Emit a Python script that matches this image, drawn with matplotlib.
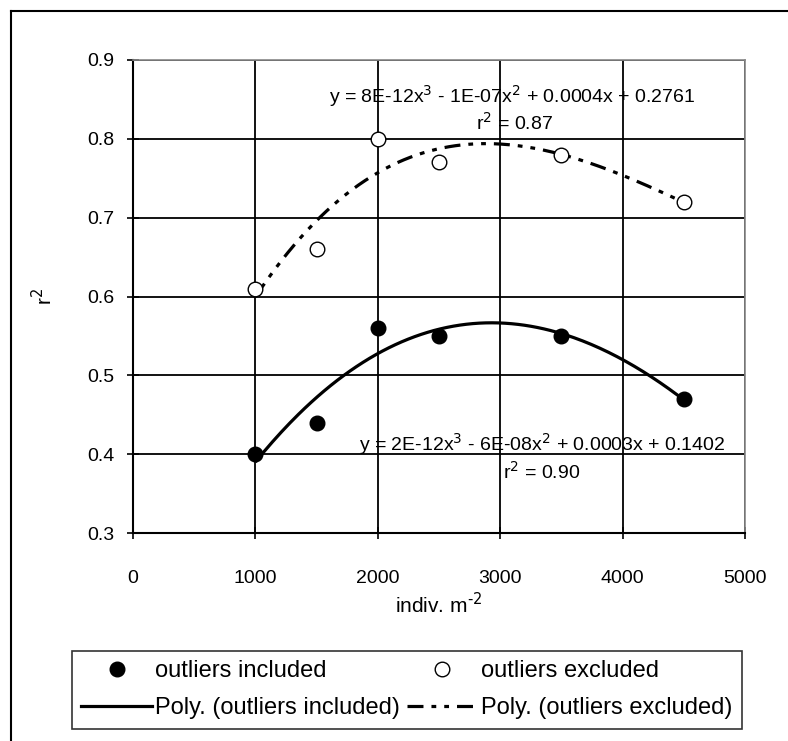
import numpy as np
import matplotlib
matplotlib.use("Agg")
import matplotlib.pyplot as plt
from matplotlib.lines import Line2D

plt.rcParams['font.family'] = ['Liberation Sans', 'DejaVu Sans']

density = [1000, 1500, 2000, 2500, 3500, 4500]
r2_included = [0.40, 0.44, 0.56, 0.55, 0.55, 0.47]
r2_excluded = [0.61, 0.66, 0.80, 0.77, 0.78, 0.72]
xticks = [0, 1000, 2000, 3000, 4000, 5000]
yticks = [0.3, 0.4, 0.5, 0.6, 0.7, 0.8, 0.9]
eq_excluded = "y = 8E-12x$^3$ - 1E-07x$^2$ + 0.0004x + 0.2761"
r2_text_excluded = "r$^2$ = 0.87"
eq_included = "y = 2E-12x$^3$ - 6E-08x$^2$ + 0.0003x + 0.1402"
r2_text_included = "r$^2$ = 0.90"

fig = plt.figure(figsize=(7.88, 7.41), dpi=100)
ax = fig.add_axes([133/788, 1-533/741, (745-133)/788, (533-60)/741])

# outer frame (left & top visible)
fig.add_artist(Line2D([11/788, 11/788], [0, 1-11/741], color='black', lw=1.5, transform=fig.transFigure))
fig.add_artist(Line2D([11/788, 1], [1-11/741, 1-11/741], color='black', lw=1.5, transform=fig.transFigure))

ax.set_xlim(0, 5000)
ax.set_ylim(0.3, 0.9)
ax.set_xticks(xticks)
ax.set_yticks(yticks)
ax.set_yticklabels([f"{v:.1f}" for v in yticks])
ax.grid(True, color='black', lw=1.3)
ax.set_axisbelow(True)
for s in ['top', 'right']:
    ax.spines[s].set_color('#888888')
    ax.spines[s].set_linewidth(1.2)
for s in ['left', 'bottom']:
    ax.spines[s].set_color('black')
    ax.spines[s].set_linewidth(1.5)
ax.tick_params(direction='inout', length=9, width=1.2, labelsize=14)
ax.tick_params(axis='x', pad=22)
ax.tick_params(axis='y', pad=9)

xs = np.linspace(min(density), max(density), 200)
c_in = np.polyfit(density, r2_included, 3)
c_ex = np.polyfit(density, r2_excluded, 3)

dash = (5, 2.5, 1.5, 2.5, 1.5, 2.5)
ax.plot(xs, np.polyval(c_in, xs), color='black', lw=2.3, solid_capstyle='butt')
ax.plot(xs, np.polyval(c_ex, xs), color='black', lw=2.3, dashes=dash)
ax.plot(density, r2_included, 'o', color='black', ms=10.5, zorder=5)
ax.plot(density, r2_excluded, 'o', mfc='white', mec='black', mew=1.0, ms=10.5, zorder=5)

ax.text(3096, 0.854, eq_excluded, ha='center', va='center', fontsize=14)
ax.text(3120, 0.820, r2_text_excluded, ha='center', va='center', fontsize=14)
ax.text(3341, 0.4127, eq_included, ha='center', va='center', fontsize=14)
ax.text(3341, 0.377, r2_text_included, ha='center', va='center', fontsize=14)

ax.set_xlabel(r"indiv. m$^{\text{-}2}$", fontsize=15, labelpad=4)
ax.set_ylabel("r$^2$", fontsize=15, labelpad=22)

handles = [
    Line2D([], [], ls='none', marker='o', color='black', ms=10.5),
    Line2D([], [], color='black', lw=2.3),
    Line2D([], [], ls='none', marker='o', mfc='white', mec='black', ms=10.5),
    Line2D([], [], color='black', lw=2.3, dashes=dash),
]
labels = ["outliers included", "Poly. (outliers included)",
          "outliers excluded", "Poly. (outliers excluded)"]
leg = fig.legend(handles, labels, ncol=2, loc='upper left',
                 bbox_to_anchor=(72/788, 1-651/741),
                 frameon=True, fancybox=False, edgecolor='black', fontsize=17,
                 handlelength=3.0, handletextpad=0.12, columnspacing=0.3,
                 borderpad=0.4, labelspacing=0.62, borderaxespad=0)
leg.get_frame().set_linewidth(1.2)

fig.savefig("out.png", dpi=100)
